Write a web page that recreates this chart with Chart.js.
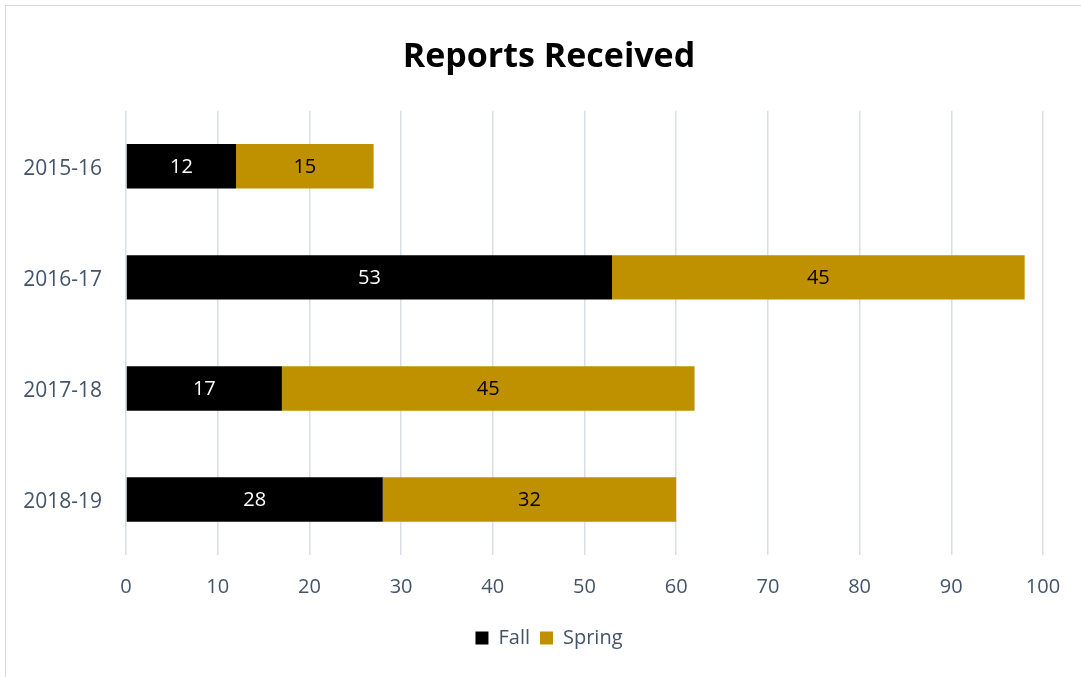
<!DOCTYPE html>
<html>
<head>
<meta charset="utf-8">
<script src="https://cdn.jsdelivr.net/npm/chart.js@4"></script>
<style>
  html, body { margin: 0; padding: 0; background: #fff; overflow: hidden; }
  #frame { position: absolute; left: 5px; top: 5px; width: 1100px; height: 700px; border: 1px solid #d9d9d9; box-sizing: border-box; }
  canvas { display: block; }
</style>
</head>
<body>
<div id="frame"><canvas id="chart" width="1086" height="690"></canvas></div>
<script>
const years = ['2015-16', '2016-17', '2017-18', '2018-19'];
const fall = [12, 53, 17, 28];
const spring = [15, 45, 45, 32];
const xTicks = [0, 10, 20, 30, 40, 50, 60, 70, 80, 90, 100];

const FONT = '"Open Sans", sans-serif';
const TEXT = '#44546a';
const labelColors = ['#ffffff', '#000000'];

// value written in the middle of each bar segment
const barLabels = {
    id: 'bar-labels',
    afterDatasetsDraw(chart) {
        const { ctx } = chart;
        ctx.save();
        ctx.font = '20px ' + FONT;
        ctx.textAlign = 'center';
        ctx.textBaseline = 'middle';
        chart.data.datasets.forEach((ds, i) => {
            const meta = chart.getDatasetMeta(i);
            if (meta.hidden) return;
            ctx.fillStyle = labelColors[i];
            meta.data.forEach((bar, j) => {
                const { x, y, base } = bar.getProps(['x', 'y', 'base'], true);
                ctx.fillText(ds.data[j], (x + base) / 2, y + 1);
            });
        });
        ctx.restore();
    },
};

new Chart(document.getElementById('chart'), {
    type: 'bar',
    plugins: [barLabels],
    data: {
        labels: years,
        datasets: [
            { label: 'Fall', data: fall, backgroundColor: '#000000' },
            { label: 'Spring', data: spring, backgroundColor: '#bf9000' },
        ],
    },
    options: {
        indexAxis: 'y',
        responsive: false,
        animation: false,
        categoryPercentage: 1,
        barPercentage: 0.4,
        layout: { padding: { left: 0, right: 0, top: 0, bottom: 38 } },
        plugins: {
            title: {
                display: true,
                text: 'Reports Received',
                color: '#000000',
                font: { family: FONT, size: 34, weight: 'bold' },
                padding: { top: 31, bottom: 33 },
            },
            legend: {
                position: 'bottom',
                labels: {
                    color: TEXT,
                    font: { family: FONT, size: 20 },
                    boxWidth: 13,
                    boxHeight: 13,
                    padding: 10,
                },
            },
            tooltip: { enabled: false },
        },
        scales: {
            x: {
                stacked: true,
                min: 0,
                max: 100,
                afterBuildTicks: scale => { scale.ticks = xTicks.map(v => ({ value: v })); },
                afterFit: scale => { scale.height = 63; },
                grid: { color: '#d9dee6', lineWidth: 1.5, drawTicks: false },
                border: { display: false },
                ticks: { color: TEXT, font: { family: FONT, size: 20 }, padding: 20, maxRotation: 0 },
            },
            y: {
                stacked: true,
                afterFit: scale => { scale.width = 120; },
                grid: { display: false },
                border: { display: false },
                ticks: { color: TEXT, font: { family: FONT, size: 21 }, padding: 16, labelOffset: 3 },
            },
            // empty right-hand axis, only keeps the right margin so title and legend stay centred
            spacer: {
                type: 'linear',
                position: 'right',
                afterFit: scale => { scale.width = 49; },
                grid: { display: false },
                border: { display: false },
                ticks: { display: false },
            },
        },
    },
});
</script>
</body>
</html>
